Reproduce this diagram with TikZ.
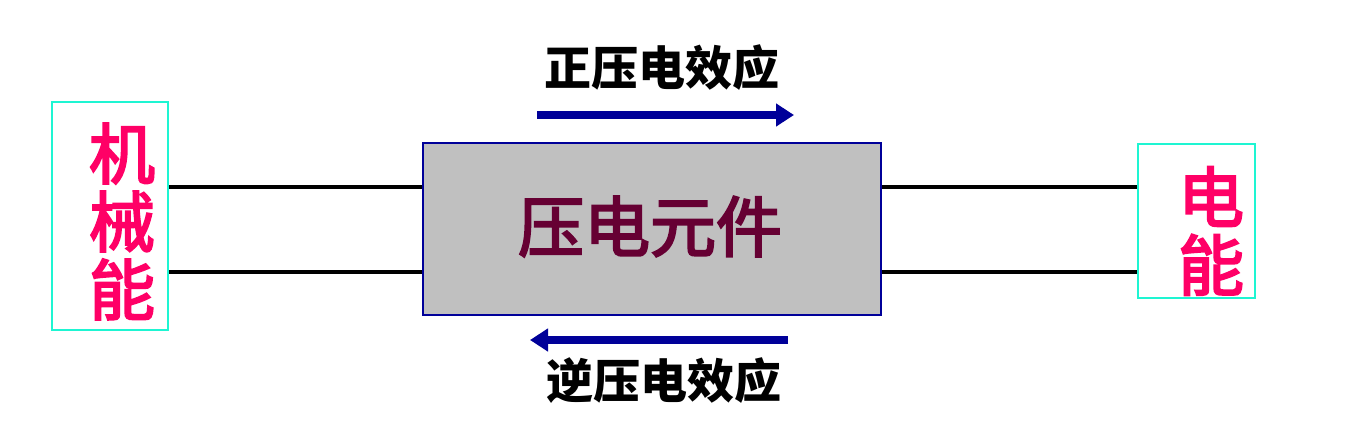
\documentclass[tikz,border=0pt]{standalone}
\usepackage{fontspec}
\newfontfamily\cjk{Noto Sans CJK SC}
\newfontfamily\cjkmid{Noto Sans CJK SC}[FakeBold=3.2]
\usetikzlibrary{arrows.meta}
\definecolor{boxcyan}{HTML}{1EF5D2}
\definecolor{navy}{HTML}{000099}
\definecolor{magentared}{HTML}{FF0066}
\definecolor{maroon}{HTML}{660033}
\definecolor{panelgray}{HTML}{C0C0C0}
\tikzset{
  energybox/.style={draw=boxcyan, line width=2pt, inner sep=0pt},
  energytext/.style={text=magentared, align=center, inner sep=0pt, font=\cjkmid\fontsize{66}{68}\selectfont},
  wire/.style={line width=4.7pt, black},
  effarrow/.style={line width=8pt, navy, -{Triangle[length=18pt,width=22pt]}},
  efftext/.style={font=\cjk\bfseries\fontsize{47}{50}\selectfont, inner sep=0pt},
}
\begin{document}
\begin{tikzpicture}[x=1pt,y=-1pt]
\useasboundingbox (0,0) rectangle (1349,431);
% boxes
\node[energybox, minimum width=116pt, minimum height=228pt] (lbox) at (110,215.5) {};
\node[energybox, minimum width=117pt, minimum height=154pt] (rbox) at (1196.5,221) {};
\node[draw=navy, fill=panelgray, line width=2pt, minimum width=458pt, minimum height=172pt, inner sep=0pt] (elem) at (652,229) {};
% texts
\node[energytext] (ltext) at (122,221.5) {机\\械\\能};
\node[energytext] (rtext) at (1211,231) {电\\能};
\node[text=maroon, inner sep=0pt, font=\cjkmid\fontsize{66}{68}\selectfont] (etext) at (650,226.5) {压电元件};
% wires
\draw[wire] (lbox.east |- 0,187) -- (elem.west |- 0,187);
\draw[wire] (lbox.east |- 0,272) -- (elem.west |- 0,272);
\draw[wire] (elem.east |- 0,187) -- (rbox.west |- 0,187);
\draw[wire] (elem.east |- 0,272) -- (rbox.west |- 0,272);
% effects
\coordinate (fa) at (537,115);
\coordinate (fb) at (794,115);
\coordinate (ra) at (788,340);
\coordinate (rb) at (530,340);
\draw[effarrow] (fa) -- (fb);
\draw[effarrow] (ra) -- (rb);
\node[efftext] (ftext) at (662,68) {正压电效应};
\node[efftext] (rtext2) at (664,381) {逆压电效应};
\end{tikzpicture}
\end{document}
